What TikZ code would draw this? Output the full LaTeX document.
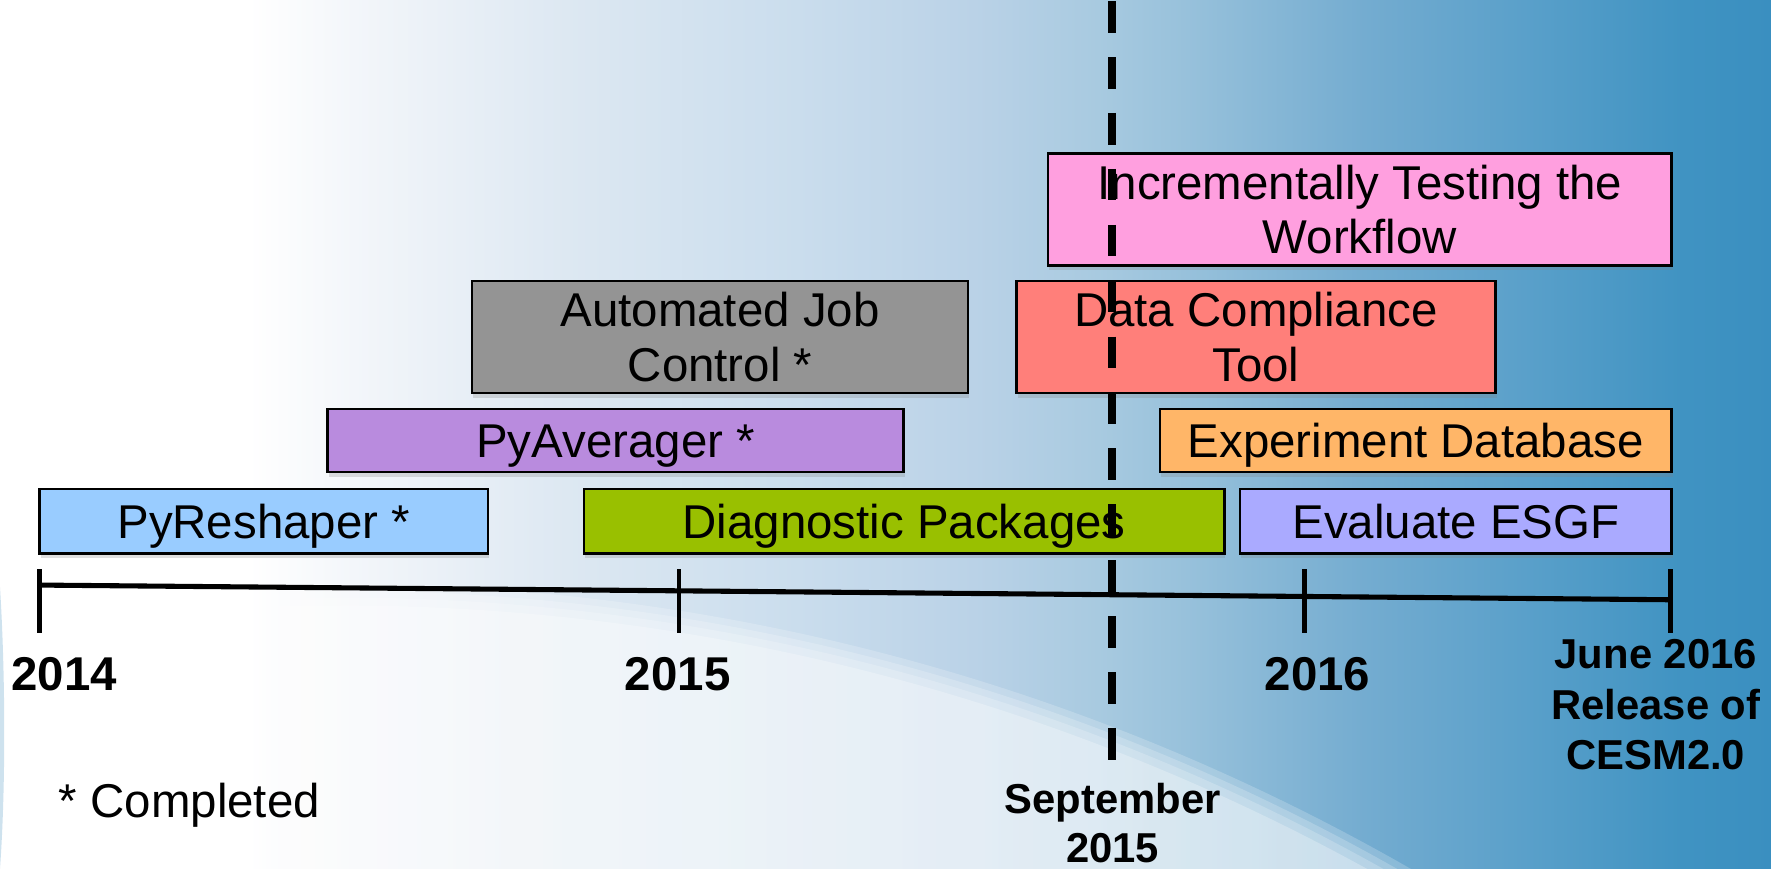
\documentclass[tikz,border=0pt]{standalone}
\usepackage{fontspec}
\setmainfont{Liberation Sans}
\usetikzlibrary{shadows}
\definecolor{bgA}{HTML}{F3F6FA}
\definecolor{bgB}{HTML}{DDE8F2}
\definecolor{bgC}{HTML}{CADDED}
\definecolor{bgD}{HTML}{BAD2E7}
\definecolor{bgE}{HTML}{A8CAE0}
\definecolor{bgF}{HTML}{94BFDA}
\definecolor{bgG}{HTML}{74ACD0}
\definecolor{bgH}{HTML}{5AA0CA}
\definecolor{bgI}{HTML}{4093C2}
\definecolor{bgJ}{HTML}{3A8FC0}
\definecolor{cPyR}{RGB}{153,204,255}
\definecolor{cDiag}{RGB}{153,192,0}
\definecolor{cEsgf}{RGB}{170,170,255}
\definecolor{cAvg}{RGB}{185,139,222}
\definecolor{cExp}{RGB}{255,182,104}
\definecolor{cAjc}{RGB}{148,148,148}
\definecolor{cDct}{RGB}{255,127,122}
\definecolor{cItw}{RGB}{255,159,223}
\pgfdeclarehorizontalshading{bgshade}{100bp}{color(0bp)=(white); color(25bp)=(white); color(32bp)=(white); color(35bp)=(bgA); color(41bp)=(bgB); color(47.5bp)=(bgC); color(52.5bp)=(bgD); color(56bp)=(bgE); color(59bp)=(bgF); color(63.5bp)=(bgG); color(68bp)=(bgH); color(72.5bp)=(bgI); color(75bp)=(bgJ); color(100bp)=(bgJ)}
\begin{document}
\begin{tikzpicture}[x=1pt,y=-1pt,
  bx/.style={draw=black, line width=2.2pt, rectangle, inner sep=0pt,
    drop shadow={shadow xshift=1pt, shadow yshift=-4pt, opacity=0.25}},
  txt/.style={inner sep=0pt, anchor=base, font=\fontsize{42}{48}\selectfont},
  yr/.style={inner sep=0pt, anchor=base, font=\fontsize{42}{48}\selectfont\bfseries},
  yrs/.style={inner sep=0pt, anchor=base, font=\fontsize{37}{45}\selectfont\bfseries},
  axis/.style={line width=4.5pt},
  tick/.style={line width=4pt},
  sept/.style={line width=6.5pt, dash pattern=on 28pt off 21.5pt}
]
\useasboundingbox (0,0) rectangle (1568,769);
\shade[shading=bgshade] (0,0) rectangle (1568,769);
\begin{scope}
  \clip (0,0) rectangle (1568,769);
  \fill[white, opacity=0.2] (300,2426) circle[radius=1909];
  \fill[white, opacity=0.2] (300,2426) circle[radius=1903];
  \fill[white, opacity=0.2] (300,2426) circle[radius=1897];
  \fill[white, opacity=0.25] (300,2426) circle[radius=1890];
  \fill[bgG, opacity=0.35] (0,520) .. controls (5,600) and (5,700) .. (0,769) -- cycle;
\end{scope}

% boxes
\node[bx, fill=cItw, minimum width=552pt, minimum height=99pt] (itw) at (1204,185.5) {};
\node[bx, fill=cAjc, minimum width=439pt, minimum height=99pt] (ajc) at (637.5,298.5) {};
\node[bx, fill=cDct, minimum width=424pt, minimum height=99pt] (dct) at (1112,298.5) {};
\node[bx, fill=cAvg, minimum width=510pt, minimum height=56pt] (avg) at (545,390) {};
\node[bx, fill=cExp, minimum width=453pt, minimum height=56pt] (exp) at (1253.5,390) {};
\node[bx, fill=cPyR, minimum width=397pt, minimum height=57pt] (pyr) at (233.5,461.5) {};
\node[bx, fill=cDiag, minimum width=567pt, minimum height=57pt] (diag) at (800.5,461.5) {};
\node[bx, fill=cEsgf, minimum width=382pt, minimum height=57pt] (esgf) at (1289,461.5) {};

% box texts
\node[txt] (itwA) at (1204,176.25) {Incrementally Testing the};
\node[txt] (itwB) at (1204,224.75) {Workflow};
\node[txt] (ajcA) at (637.5,289.25) {Automated Job};
\node[txt] (ajcB) at (637.5,337.75) {Control *};
\node[txt] (dctA) at (1112,289.25) {Data Compliance};
\node[txt] (dctB) at (1112,337.75) {Tool};
\node[txt] (avgT) at (545,405) {PyAverager *};
\node[txt] (expT) at (1253.5,405) {Experiment Database};
\node[txt] (pyrT) at (233.5,476.5) {PyReshaper *};
\node[txt] (diagT) at (800.5,476.5) {Diagnostic Packages};
\node[txt] (esgfT) at (1289,476.5) {Evaluate ESGF};

% timeline
\coordinate (a0) at (35,518);
\coordinate (a4) at (1479,531);
\draw[axis] (a0) -- (a4);
\coordinate (k0t) at (35,504);   \coordinate (k0b) at (35,560);
\coordinate (k1t) at (601,504);  \coordinate (k1b) at (601,560);
\coordinate (k2t) at (1155,504); \coordinate (k2b) at (1155,560);
\coordinate (k3t) at (1479,504); \coordinate (k3b) at (1479,560);
\draw[tick] (k0t) -- (k0b);
\draw[tick] (k1t) -- (k1b);
\draw[tick] (k2t) -- (k2b);
\draw[tick] (k3t) -- (k3b);

% labels
\node[yr] (y14) at (57,611) {2014};
\node[yr] (y15) at (600,611) {2015};
\node[yr] (y16) at (1166.5,611) {2016};
\node[yrs] (junA) at (1466,592) {June 2016};
\node[yrs] (junB) at (1466,637) {Release of};
\node[yrs] (junC) at (1466,681) {CESM2.0};
\node[yrs] (sepA) at (985,720) {September};
\node[yrs] (sepB) at (985,764) {2015};
\node[txt, anchor=base west] (done) at (52,724) {* Completed};

% september marker
\coordinate (dtop) at (984.5,1);
\coordinate (dbot) at (984.5,673);
\draw[sept] (dtop) -- (dbot);
\end{tikzpicture}
\end{document}
